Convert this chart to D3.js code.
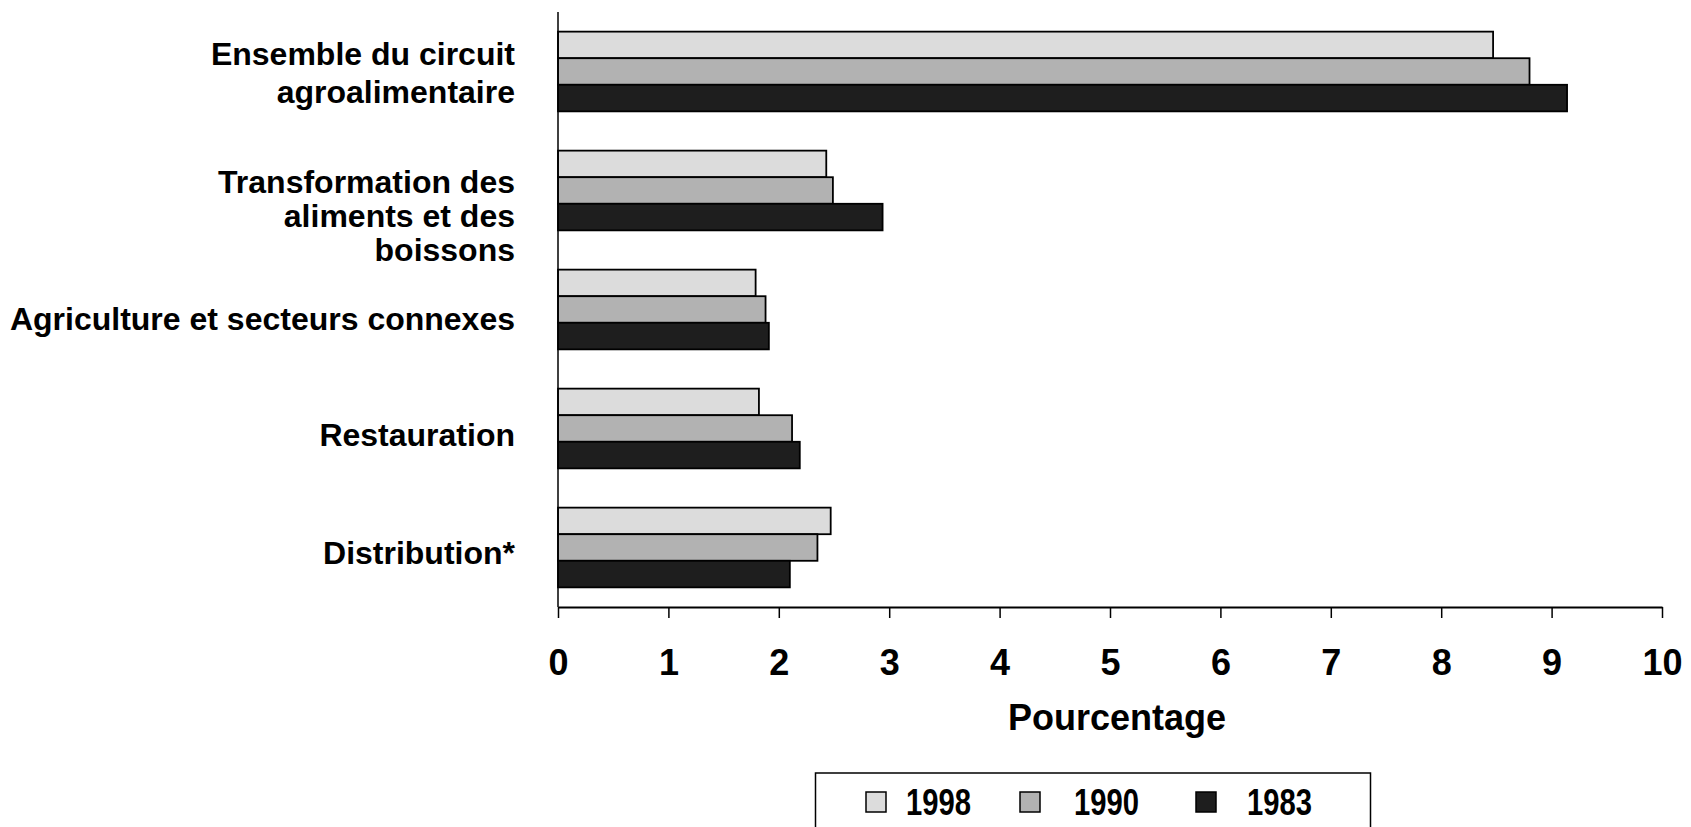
<!DOCTYPE html>
<html>
<head>
<meta charset="utf-8">
<script src="https://cdn.jsdelivr.net/npm/d3@7"></script>
<style>
  html, body { margin: 0; padding: 0; background: #fff; }
  svg { display: block; }
  text { font-family: "Liberation Sans", Arial, sans-serif; font-weight: bold; fill: #000; }
</style>
</head>
<body>
<svg id="chart" width="1691" height="827"></svg>
<script>
// ---- data ----
const categories = [
  "Ensemble du circuit agroalimentaire",
  "Transformation des aliments et des boissons",
  "Agriculture et secteurs connexes",
  "Restauration",
  "Distribution*"
];
const categoryLines = [
  ["Ensemble du circuit", "agroalimentaire"],
  ["Transformation des", "aliments et des", "boissons"],
  ["Agriculture et secteurs connexes"],
  ["Restauration"],
  ["Distribution*"]
];
const seriesNames = ["1998", "1990", "1983"];
const values1998 = [8.47, 2.43, 1.79, 1.82, 2.47];
const values1990 = [8.80, 2.49, 1.88, 2.12, 2.35];
const values1983 = [9.14, 2.94, 1.91, 2.19, 2.10];
const xTickValues = [0, 1, 2, 3, 4, 5, 6, 7, 8, 9, 10];
const xTitle = "Pourcentage";

// ---- styles ----
const seriesColors = ["#dcdcdc", "#b2b2b2", "#1e1e1e"];
const seriesValues = [values1998, values1990, values1983];

const svg = d3.select("#chart");

const x = d3.scaleLinear().domain([0, 10]).range([558, 1662]);
const y = d3.scaleBand().domain(categories).range([12, 607])
  .paddingInner(0.33).paddingOuter(0.165);
const ys = d3.scaleBand().domain(seriesNames).range([0, y.bandwidth()]);

// bars
const groups = svg.append("g").selectAll("g")
  .data(categories).join("g")
  .attr("transform", d => `translate(0,${y(d)})`);

groups.selectAll("rect")
  .data((c, i) => seriesNames.map((s, k) => ({ s, k, v: seriesValues[k][i] })))
  .join("rect")
  .attr("x", x(0))
  .attr("y", d => ys(d.s))
  .attr("width", d => x(d.v) - x(0))
  .attr("height", ys.bandwidth())
  .attr("fill", d => seriesColors[d.k])
  .attr("stroke", "#000")
  .attr("stroke-width", 1.8);

// vertical axis line
svg.append("line")
  .attr("x1", x(0)).attr("x2", x(0))
  .attr("y1", 12).attr("y2", 607)
  .attr("stroke", "#000").attr("stroke-width", 1.5);

// x axis
const xAxis = d3.axisBottom(x).tickValues(xTickValues).tickSize(11).tickSizeOuter(0)
  .tickFormat(d3.format("d"));
const gx = svg.append("g").attr("transform", "translate(0,607)").call(xAxis);
gx.select(".domain").attr("stroke", "#000").attr("stroke-width", 2);
gx.selectAll(".tick line").attr("stroke", "#000").attr("stroke-width", 1.5);
gx.selectAll(".tick text")
  .attr("y", 68).attr("dy", null)
  .style("font-family", '"Liberation Sans", Arial, sans-serif')
  .style("font-weight", "bold")
  .style("font-size", "36px")
  .attr("fill", "#000");

// x title
svg.append("text")
  .attr("x", 1117).attr("y", 730)
  .attr("text-anchor", "middle")
  .style("font-size", "36px")
  .text(xTitle);

// category labels (first baseline offset from band centre, line spacing)
const labelLayout = [
  { first: -6.5, gap: 37.5 },
  { first: 2.5, gap: 34 },
  { first: 20.5, gap: 0 },
  { first: 17, gap: 0 },
  { first: 16, gap: 0 }
];
categories.forEach((c, i) => {
  const cy = y(c) + y.bandwidth() / 2;
  const t = svg.append("text")
    .attr("text-anchor", "end")
    .style("font-size", "32px");
  categoryLines[i].forEach((line, j) => {
    t.append("tspan")
      .attr("x", 515)
      .attr("y", cy + labelLayout[i].first + j * labelLayout[i].gap)
      .text(line);
  });
});

// legend
svg.append("rect")
  .attr("x", 815.5).attr("y", 773)
  .attr("width", 555).attr("height", 80)
  .attr("fill", "#fff").attr("stroke", "#000").attr("stroke-width", 1.5);

const legendSquareX = [866, 1020, 1196];
const legendTextX = [906, 1074, 1247];
seriesNames.forEach((s, k) => {
  svg.append("rect")
    .attr("x", legendSquareX[k]).attr("y", 792)
    .attr("width", 20).attr("height", 20)
    .attr("fill", seriesColors[k]).attr("stroke", "#000").attr("stroke-width", 1.5);
  svg.append("text")
    .attr("x", legendTextX[k]).attr("y", 815)
    .style("font-size", "36px")
    .attr("textLength", 65)
    .attr("lengthAdjust", "spacingAndGlyphs")
    .text(s);
});
</script>
</body>
</html>
